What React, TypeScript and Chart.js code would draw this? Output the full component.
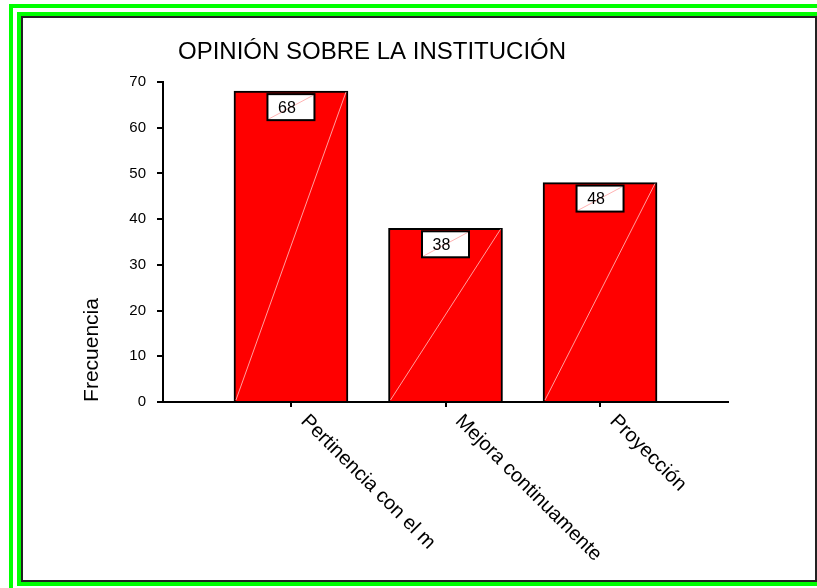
import React, { useEffect, useRef } from "react";
import { Chart, registerables } from "chart.js";

Chart.register(...registerables);

const categories = ["Pertinencia con el m", "Mejora continuamente", "Proyección"];
const values = [68, 38, 48];
const yTicks = [0, 10, 20, 30, 40, 50, 60, 70];
const titleText = "OPINIÓN SOBRE LA INSTITUCIÓN";
const yTitle = "Frecuencia";

const FONT = "'Liberation Sans', Arial, sans-serif";

const decorPlugin = {
  id: "decor",
  beforeDraw(chart: any) {
    const ctx = chart.ctx;
    ctx.save();
    ctx.fillStyle = "#ffffff";
    ctx.fillRect(0, 0, chart.width, chart.height);
    // frame
    ctx.fillStyle = "#00ff00";
    ctx.fillRect(9, 4, 820, 4);
    ctx.fillRect(9, 4, 4, 600);
    ctx.fillRect(17, 12, 820, 4);
    ctx.fillRect(17, 12, 4, 574);
    ctx.fillRect(17, 582, 820, 4);
    ctx.strokeStyle = "#222222";
    ctx.lineWidth = 2;
    ctx.strokeRect(22, 17, 794, 564);
    ctx.restore();
  },
  afterDraw(chart: any) {
    const ctx = chart.ctx;
    const meta = chart.getDatasetMeta(0);
    const xScale = chart.scales.x;
    const area = chart.chartArea;
    ctx.save();
    // bar diagonals and value boxes
    meta.data.forEach((bar: any, i: number) => {
      const p = bar.getProps(["x", "y", "base", "width"], true);
      const l = p.x - p.width / 2 + 2;
      const r = p.x + p.width / 2 - 2;
      ctx.strokeStyle = "rgba(255,175,175,0.9)";
      ctx.lineWidth = 1;
      ctx.beginPath();
      ctx.moveTo(l, p.base - 1);
      ctx.lineTo(r, p.y + 1);
      ctx.stroke();

      const bw = 47, bh = 26;
      const bx = p.x - bw / 2;
      const by = p.y + 3;
      ctx.fillStyle = "#ffffff";
      ctx.fillRect(bx, by, bw, bh);
      ctx.strokeStyle = "rgba(255,170,170,0.9)";
      ctx.beginPath();
      ctx.moveTo(bx + 1, by + bh - 1);
      ctx.lineTo(bx + bw - 1, by + 1);
      ctx.stroke();
      ctx.strokeStyle = "#000000";
      ctx.lineWidth = 2;
      ctx.strokeRect(bx, by, bw, bh);
      ctx.fillStyle = "#000000";
      ctx.font = `16px ${FONT}`;
      ctx.textAlign = "center";
      ctx.textBaseline = "middle";
      ctx.fillText(String(values[i]), p.x - 4, by + bh / 2 + 1);
    });

    // title
    ctx.fillStyle = "#000000";
    ctx.font = `24px ${FONT}`;
    ctx.textAlign = "left";
    ctx.textBaseline = "middle";
    ctx.fillText(titleText, 178, 52);

    // y title
    ctx.save();
    ctx.translate(92, 350);
    ctx.rotate(-Math.PI / 2);
    ctx.font = `21px ${FONT}`;
    ctx.textAlign = "center";
    ctx.textBaseline = "middle";
    ctx.fillText(yTitle, 0, 0);
    ctx.restore();

    // x labels
    categories.forEach((c, i) => {
      const x = xScale.getPixelForValue(i);
      ctx.save();
      ctx.translate(x + 20, area.bottom + 9);
      ctx.rotate(Math.PI / 4);
      ctx.font = `20px ${FONT}`;
      ctx.textAlign = "left";
      ctx.textBaseline = "top";
      ctx.fillText(c, 0, 0);
      ctx.restore();
    });
    ctx.restore();
  },
};

export default function App() {
  const ref = useRef<HTMLCanvasElement>(null);
  useEffect(() => {
    if (!ref.current) return;
    const chart = new Chart(ref.current, {
      type: "bar",
      data: {
        datasets: [
          {
            data: categories.map((_, i) => ({ x: i, y: values[i] })),
            backgroundColor: "#ff0000",
            borderColor: "#000000",
            borderWidth: 2,
            barThickness: 114,
          },
        ],
      },
      options: {
        responsive: false,
        animation: false,
        events: [],
        layout: { padding: { left: 0, top: 82, right: 89, bottom: 180 } },
        plugins: { legend: { display: false }, title: { display: false }, tooltip: { enabled: false } },
        scales: {
          x: {
            type: "linear",
            min: -0.828,
            max: 2.828,
            offset: false,
            afterBuildTicks: (s: any) => {
              s.ticks = categories.map((_, i) => ({ value: i }));
            },
            afterFit: (s: any) => {
              s.height = 6;
            },
            ticks: { display: false },
            grid: { offset: false, drawOnChartArea: false, drawTicks: true, tickLength: 5, color: "#000000", lineWidth: 2 },
            border: { display: true, color: "#000000", width: 2 },
          },
          y: {
            min: 0,
            max: 70,
            afterBuildTicks: (s: any) => {
              s.ticks = yTicks.map((v) => ({ value: v }));
            },
            afterFit: (s: any) => {
              s.width = 163;
            },
            ticks: { color: "#000000", font: { family: FONT, size: 15 }, padding: 11 },
            grid: { drawOnChartArea: false, drawTicks: true, tickLength: 6, color: "#000000", lineWidth: 2 },
            border: { display: true, color: "#000000", width: 2 },
          },
        },
      },
      plugins: [decorPlugin],
    });
    return () => chart.destroy();
  }, []);
  return (
    <div style={{ position: "fixed", left: 0, top: 0, width: 817, height: 588 }}>
      <canvas ref={ref} width={817} height={588} style={{ display: "block" }} />
    </div>
  );
}
